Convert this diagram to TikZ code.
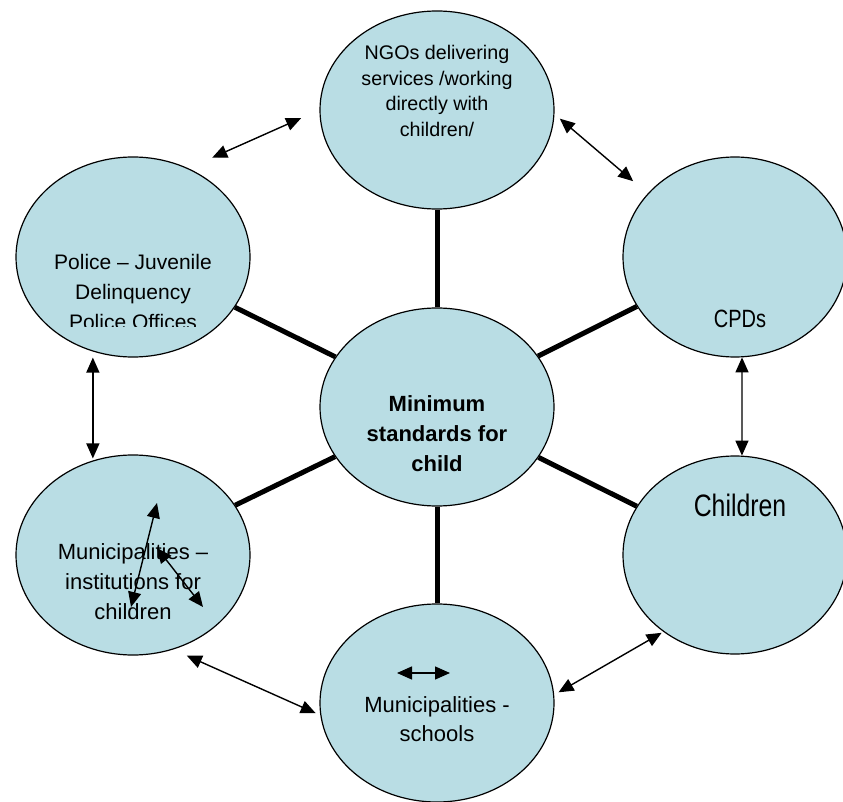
\documentclass[tikz,border=0pt]{standalone}
\usepackage{fontspec}
\setmainfont{Liberation Sans}
\newfontfamily\narrowfont[FakeStretch=0.8]{Liberation Sans}
\usetikzlibrary{shapes.geometric,arrows.meta}
\definecolor{paleblue}{RGB}{185,221,228}

\begin{document}
\begin{tikzpicture}[x=1pt,y=-1pt,
  bubble/.style={ellipse,draw,line width=1.2pt,fill=paleblue,minimum width=234pt,minimum height=198pt,inner sep=0pt},
  txt/.style={align=center,inner sep=0pt},
  spoke/.style={line width=5pt},
  link/.style={line width=1.4pt,{Triangle[length=15pt,width=13pt]}-{Triangle[length=15pt,width=13pt]}}]
\clip (0,0) rectangle (843,802);
\node[bubble] (ngo) at (437,110) {};
\node[bubble,minimum height=200pt] (police) at (133,257) {};
\node[bubble,minimum width=224pt,minimum height=200pt] (cpd) at (735,257) {};
\node[bubble] (hub) at (437,407) {};
\node[bubble,minimum height=200pt] (inst) at (133,555) {};
\node[bubble,minimum width=224pt] (kids) at (735,555) {};
\node[bubble] (school) at (437,703) {};
\draw[spoke] (hub) -- (ngo);
\draw[spoke] (hub) -- (police);
\draw[spoke] (hub) -- (cpd);
\draw[spoke] (hub) -- (inst);
\draw[spoke] (hub) -- (kids);
\draw[spoke] (hub) -- (school);
\node[txt,font=\fontsize{19.7}{25.7}\selectfont] (ngo-t) at (437,91) {NGOs delivering\\services /working\\directly with\\children/};
\begin{scope}
\clip (0,0) rectangle (843,326);
\node[txt,font=\fontsize{21}{30}\selectfont] (police-t) at (133,292) {Police -- Juvenile\\Delinquency\\Police Offices};
\end{scope}
\node[txt,font=\bfseries\fontsize{22}{30}\selectfont] (hub-t) at (437,434) {Minimum\\standards for\\child};
\node[txt,font=\fontsize{22}{30}\selectfont] (inst-t) at (133,582) {Municipalities --\\institutions for\\children};
\node[txt,font=\fontsize{22}{29}\selectfont] (school-t) at (437,719) {Municipalities -\\schools};
\node[txt,font=\narrowfont\fontsize{25}{30}\selectfont,anchor=base] (cpd-t) at (740,327) {CPDs};
\node[txt,font=\narrowfont\fontsize{31}{36}\selectfont,anchor=base] (kids-t) at (740,516) {Children};
\draw[link,shorten <=26pt,shorten >=20pt] (police.58) -- (ngo.180);
\draw[link,shorten <=7pt,shorten >=19pt] (ngo.-2) -- (cpd.144);
\draw[link,shorten <=6pt,shorten >=2pt] (police.-113) -- (inst.113);
\draw[link] (cpd.-86) -- (kids.86);
\draw[link,shorten <=15pt,shorten >=5pt] (inst.-67) -- (school.186);
\draw[link,shorten <=5pt,shorten >=2pt] (school.4) -- (kids.227);
\coordinate (i1) at (131,607);
\coordinate (i2) at (157,503);
\coordinate (i3) at (157,548);
\coordinate (i4) at (203,607);
\coordinate (s1) at (397,673);
\coordinate (s2) at (450,673);
\draw[link] (i1) -- (i2);
\draw[link] (i3) -- (i4);
\draw[link] (s1) -- (s2);
\end{tikzpicture}
\end{document}
